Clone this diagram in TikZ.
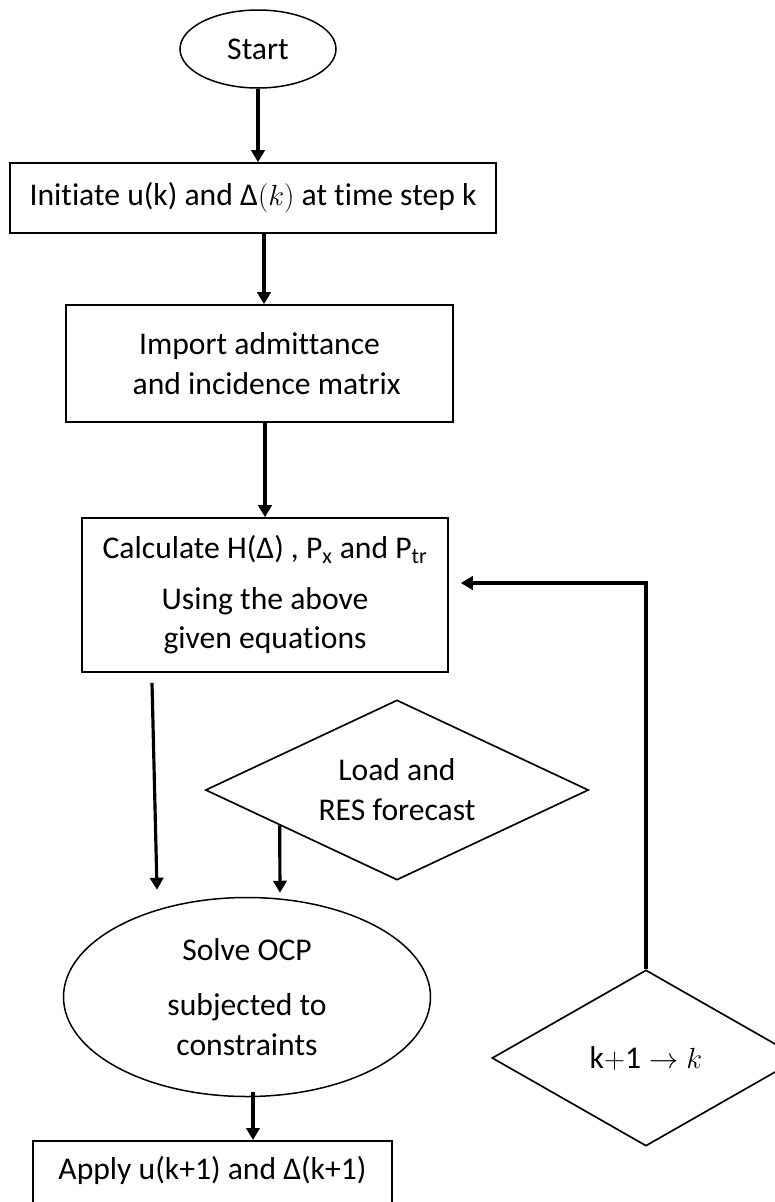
\documentclass[tikz,border=0pt]{standalone}
\usepackage{fontspec}
\setmainfont{Carlito}[Ligatures=NoCommon]
\usetikzlibrary{positioning,arrows.meta,shapes.geometric,calc}

\begin{document}
\begin{tikzpicture}[
    x=0.3mm, y=-0.3mm,
    font=\fontsize{27pt}{34pt}\selectfont,
    >={Triangle[length=3.6mm, width=4mm]},
    box/.style={draw, line width=0.5mm, align=center, inner sep=0pt},
    term/.style={draw, line width=0.45mm, ellipse, align=center, inner sep=0pt},
    dec/.style={draw, line width=0.5mm, diamond, align=center, inner sep=0pt},
    flow/.style={->, line width=0.95mm},
]
\clip (0,0) rectangle (775,1202);

% ---- Main column --------------------------------------------------
\node[term, minimum width=46.8mm, minimum height=23.4mm] (start) at (258,49) {Start};
\node[box, minimum width=145.8mm, minimum height=21mm] (init) at (253,198)
    {Initiate u(k) and Δ$(k)$ at time step k};
\node[box, minimum width=116.1mm, minimum height=35.1mm] (import) at (259.5,363.5)
    {Import admittance\\\ \ and incidence matrix};
\node[box, minimum width=109.8mm, minimum height=46.2mm] (calcH) at (265,595)
    {Calculate H(Δ) , P\textsubscript{x} and P\textsubscript{tr}\\[9pt]Using the above\\given equations};

% ---- Forecast + optimisation --------------------------------------
\node[dec, aspect=2.13, minimum width=114.9mm, minimum height=54mm] (load) at (397,790)
    {Load and\\RES forecast};
\node[term, minimum width=110.1mm, minimum height=59.7mm] (ocp) at (247,997)
    {Solve OCP\\[13pt]subjected to\\constraints};
\node[box, minimum width=107.7mm, minimum height=30mm, anchor=north] (apply) at (212.5,1140) {};
\node[anchor=north] (applytxt) at ($(apply.north)+(0,12)$) {Apply u(k+1) and Δ(k+1)};

% ---- Time step update ---------------------------------------------
\node[dec, aspect=1.75, minimum width=92.4mm, minimum height=52.8mm] (kstep) at (646,1058)
    {$\mathrm{k{+}1} \rightarrow k$};

% ---- Edge end points ----------------------------------------------
\coordinate (initout) at ($(init.south)+(11,0)$);
\coordinate (ocpout) at ($(ocp.south)+(6,-5)$);
\coordinate (calcout) at ($(calcH.south)+(-113,10)$);
\coordinate (loadout) at ($(load.west)!0.39!(load.south)$);
\coordinate (loopin) at ($(calcH.east)+(12,-12)$);

% ---- Edges --------------------------------------------------------
\draw[flow] (start) -- (start |- init.north);
\draw[flow] (initout) -- (initout |- import.north);
\draw[flow] (import.south -| calcH.north) -- (calcH.north);
\draw[flow] (calcout) -- ($(ocp.north)+(-90,-7)$);
\draw[flow] (loadout) -- ($(ocp.north)+(33,-4)$);
\draw[flow] (ocpout) -- (ocpout |- apply.north);
\draw[flow] (kstep.north) |- (loopin);

\end{tikzpicture}
\end{document}
